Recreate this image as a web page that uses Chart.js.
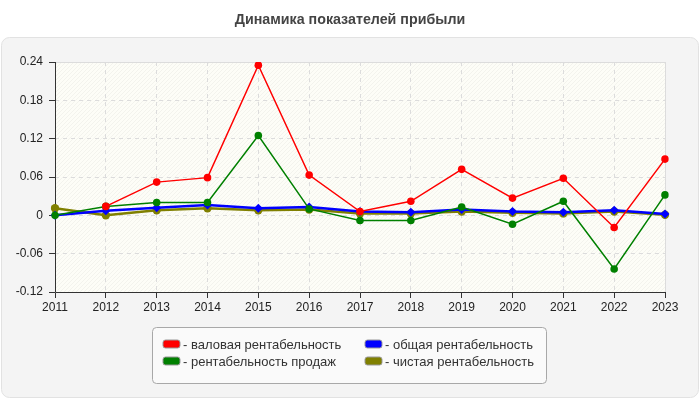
<!DOCTYPE html>
<html>
<head>
<meta charset="utf-8">
<script src="https://cdn.jsdelivr.net/npm/chart.js@4"></script>
<style>
  body { margin: 0; background: #fff; }
  #wrap { width: 700px; height: 400px; }
</style>
</head>
<body>
<div id="wrap"><canvas id="grafico" width="700" height="400"></canvas></div>
<script>
// Данные
const years = ['2011', '2012', '2013', '2014', '2015', '2016', '2017', '2018', '2019', '2020', '2021', '2022', '2023'];
const valovaya = [null, 0.014, 0.052, 0.059, 0.235, 0.063, 0.006, 0.022, 0.072, 0.027, 0.058, -0.019, 0.088];
const prodazh = [0, 0.014, 0.020, 0.020, 0.125, 0.010, -0.008, -0.008, 0.013, -0.014, 0.022, -0.084, 0.032];
const obshaya = [0, 0.007, 0.012, 0.016, 0.011, 0.013, 0.006, 0.005, 0.009, 0.006, 0.005, 0.008, 0.002];
const chistaya = [0.011, 0, 0.008, 0.011, 0.008, 0.009, 0.003, 0.003, 0.006, 0.004, 0.003, 0.006, 0.001];
const seriesNames = ['валовая рентабельность', 'рентабельность продаж', 'общая рентабельность', 'чистая рентабельность'];
const yMin = -0.12, yMax = 0.24, yStep = 0.06;

const FONT = "'Liberation Sans', Arial, sans-serif";

// Штриховка фона области графика
const hatch = document.createElement('canvas');
hatch.width = 4; hatch.height = 4;
const hc = hatch.getContext('2d');
hc.fillStyle = '#fdfdf7';
hc.fillRect(0, 0, 4, 4);
hc.strokeStyle = 'rgba(0,0,0,0.04)';
hc.lineWidth = 1;
hc.beginPath();
hc.moveTo(0, 4); hc.lineTo(4, 0);
hc.moveTo(-2, 2); hc.lineTo(2, -2);
hc.moveTo(2, 6); hc.lineTo(6, 2);
hc.stroke();

function roundRect(ctx, x, y, w, h, r) {
  ctx.beginPath();
  ctx.moveTo(x + r, y);
  ctx.lineTo(x + w - r, y);
  ctx.arcTo(x + w, y, x + w, y + r, r);
  ctx.lineTo(x + w, y + h - r);
  ctx.arcTo(x + w, y + h, x + w - r, y + h, r);
  ctx.lineTo(x + r, y + h);
  ctx.arcTo(x, y + h, x, y + h - r, r);
  ctx.lineTo(x, y + r);
  ctx.arcTo(x, y, x + r, y, r);
  ctx.closePath();
}

const fonPlugin = {
  id: 'fon',
  beforeDraw(chart) {
    const ctx = chart.ctx;
    const a = chart.chartArea;
    ctx.save();
    // панель
    roundRect(ctx, 1.5, 37.5, 697, 360, 8);
    ctx.fillStyle = '#f4f4f4';
    ctx.fill();
    ctx.strokeStyle = '#e2e2e2';
    ctx.lineWidth = 1;
    ctx.stroke();
    // область графика
    ctx.fillStyle = ctx.createPattern(hatch, 'repeat');
    ctx.fillRect(a.left, a.top, a.right - a.left, a.bottom - a.top);
    ctx.restore();
  },
  beforeDatasetsDraw(chart) {
    const ctx = chart.ctx;
    const a = chart.chartArea;
    ctx.save();
    ctx.strokeStyle = '#dcdcdc';
    ctx.lineWidth = 1;
    ctx.beginPath();
    ctx.moveTo(a.left, a.top + 0.5); ctx.lineTo(a.right + 0.5, a.top + 0.5);
    ctx.lineTo(a.right + 0.5, a.bottom);
    ctx.stroke();
    // оси
    ctx.strokeStyle = '#333';
    ctx.beginPath();
    ctx.moveTo(a.left + 0.5, a.top); ctx.lineTo(a.left + 0.5, a.bottom + 0.5);
    ctx.lineTo(a.right + 1, a.bottom + 0.5);
    ctx.stroke();
    ctx.restore();
  }
};

// Легенда в рамке, две колонки
const legendaPlugin = {
  id: 'legenda',
  afterDraw(chart) {
    const ctx = chart.ctx;
    ctx.save();
    roundRect(ctx, 152.5, 327.5, 394, 56, 4);
    ctx.fillStyle = '#fafafa';
    ctx.fill();
    ctx.strokeStyle = '#a8a8a8';
    ctx.lineWidth = 1;
    ctx.stroke();
    const pos = [[163, 344], [163, 361], [365, 344], [365, 361]];
    chart.data.datasets.forEach((ds, i) => {
      const [x, y] = pos[i];
      roundRect(ctx, x, y - 4, 17, 8, 2.5);
      ctx.fillStyle = ds.borderColor;
      ctx.fill();
      ctx.strokeStyle = '#999';
      ctx.stroke();
      ctx.fillStyle = '#333';
      ctx.font = '13px ' + FONT;
      ctx.textBaseline = 'middle';
      ctx.fillText('- ' + ds.label, x + 20, y + 1);
    });
    ctx.restore();
  }
};

function serie(label, data, color, width, radius, style) {
  return {
    label: label,
    data: data,
    borderColor: color,
    backgroundColor: color,
    borderWidth: width,
    pointRadius: radius,
    pointHoverRadius: radius,
    pointStyle: style,
    pointBorderWidth: 0,
    tension: 0
  };
}

new Chart(document.getElementById('grafico'), {
  type: 'line',
  data: {
    labels: years,
    datasets: [
      serie(seriesNames[0], valovaya, '#ff0000', 1.5, 3.8, 'circle'),
      serie(seriesNames[1], prodazh, '#008000', 1.5, 3.8, 'circle'),
      serie(seriesNames[2], obshaya, '#0000ff', 2.5, 4.5, 'rectRot'),
      serie(seriesNames[3], chistaya, '#808000', 2.5, 4.2, 'circle')
    ]
  },
  options: {
    responsive: false,
    animation: false,
    layout: { padding: { top: 62, left: 0, right: 35, bottom: 82 } },
    plugins: {
      legend: { display: false },
      tooltip: { enabled: false },
      title: { display: false }
    },
    scales: {
      x: {
        offset: false,
        afterFit: s => { s.height = 26; },
        grid: {
          color: '#dcdcdc',
          tickLength: 6,
          tickColor: '#333',
          tickBorderDash: []
        },
        border: { display: false, dash: [4, 4] },
        ticks: { color: '#222', font: { family: FONT, size: 12 }, padding: 2, maxRotation: 0 }
      },
      y: {
        min: yMin,
        max: yMax,
        afterFit: s => { s.width = 55; },
        grid: {
          color: '#dcdcdc',
          tickLength: 6,
          tickColor: '#333',
          tickBorderDash: []
        },
        border: { display: false, dash: [4, 4] },
        ticks: {
          stepSize: yStep,
          color: '#222',
          padding: 6,
          font: { family: FONT, size: 12 },
          callback: v => String(parseFloat(v.toFixed(2)))
        }
      }
    }
  },
  plugins: [fonPlugin, legendaPlugin, {
    id: 'zagolovok',
    afterDraw(chart) {
      const ctx = chart.ctx;
      ctx.save();
      ctx.fillStyle = '#444';
      ctx.font = "bold 15px 'Liberation Sans', Arial, sans-serif";
      ctx.textAlign = 'center';
      ctx.textBaseline = 'middle';
      ctx.translate(350, 20);
      ctx.scale(0.95, 1);
      ctx.fillText('Динамика показателей прибыли', 0, 0);
      ctx.restore();
    }
  }]
});
</script>
</body>
</html>
